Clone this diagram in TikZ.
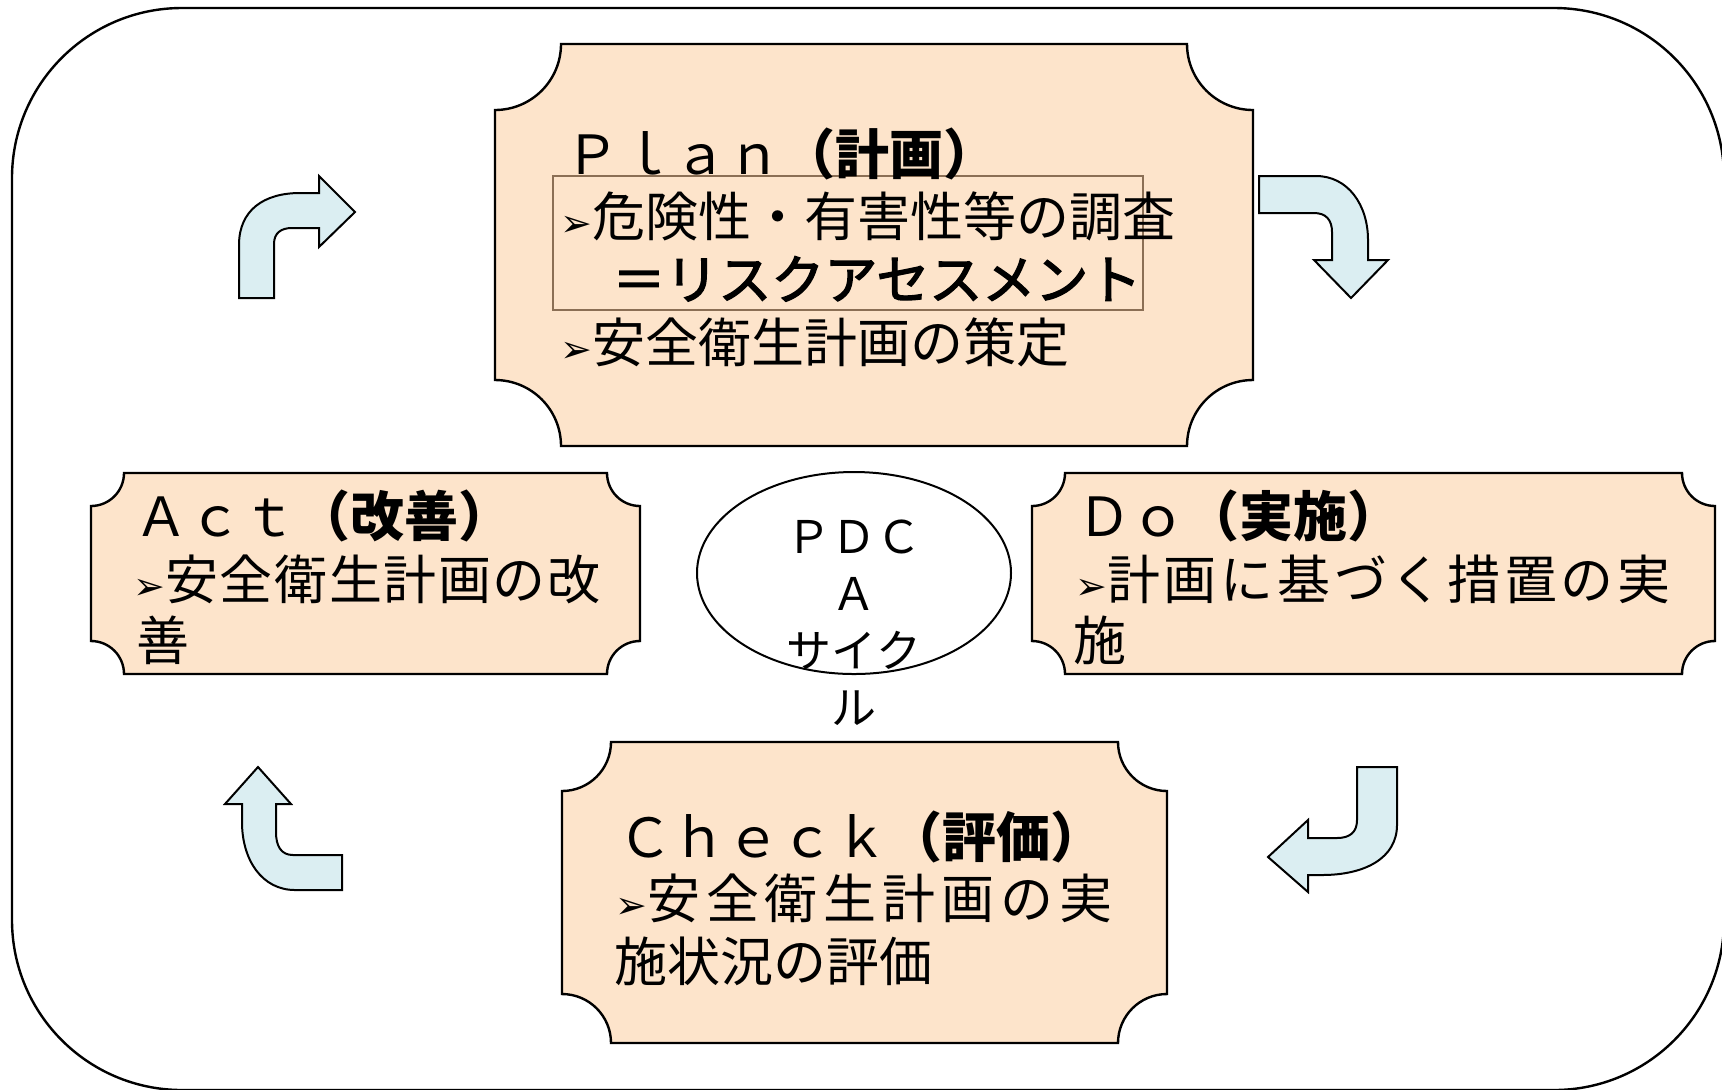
\documentclass[tikz,border=0pt]{standalone}
\usepackage{fontspec}
\newfontfamily\jpfont{Noto Sans CJK JP}
\newfontfamily\dejavufont{DejaVu Sans}
\usetikzlibrary{shapes.geometric}
\definecolor{peach}{HTML}{FDE4CB}
\definecolor{ice}{HTML}{DBEEF2}
\definecolor{framebrown}{HTML}{8B6F55}
\newcommand\bulmark{{\dejavufont\fontsize{19}{19}\selectfont\raisebox{0pt}{➢}}}
% plaque: x1 y1 x2 y2 r  (pixel coordinates, y downwards)
\newcommand\plaque[5]{%
  \draw[boxshape] (#1+#5,#2) -- (#3-#5,#2)
    arc[start angle=180,end angle=90,radius=#5] -- (#3,#4-#5)
    arc[start angle=270,end angle=180,radius=#5] -- (#1+#5,#4)
    arc[start angle=0,end angle=-90,radius=#5] -- (#1,#2+#5)
    arc[start angle=90,end angle=0,radius=#5] -- cycle;}
\begin{document}
\begin{tikzpicture}[x=0.5pt,y=-0.5pt,
  boxshape/.style={draw=black,line width=1.2pt,fill=peach},
  arrowshape/.style={draw=black,line width=1pt,fill=ice,line join=miter},
  body/.style={inner sep=0pt,anchor=west,font=\jpfont\fontsize{26.5}{31}\selectfont,text height=23.3pt,text depth=3.2pt},
  head/.style={inner sep=0pt,anchor=west,font=\jpfont\fontsize{27}{30}\selectfont,text height=23.8pt,text depth=3.2pt},
]
\useasboundingbox (0,0) rectangle (1722,1089);
\clip (0,0) rectangle (1722,1089);
% outer frame
\draw[line width=1.2pt,rounded corners=85pt] (12,8) rectangle (1724,1090);

% boxes
\plaque{495}{44}{1253}{446}{66}
\plaque{91}{473}{640}{674}{33}
\plaque{1032}{473}{1715}{674}{33}
\plaque{562}{742}{1167}{1043}{49}

% Plan
\node[draw=framebrown,line width=1pt,minimum width=295pt,minimum height=67pt,inner sep=0pt] (riskbox) at (848,243) {};
\node[head] (planh) at (565,154) {Ｐｌａｎ{\bfseries（計画）}};
\node[body] (plan1) at (560,216) {\bulmark 危険性・有害性等の調査};
\node[body] (plan2) at (612,279) {\addfontfeatures{FakeBold=2.5}＝リスクアセスメント};
\node[body] (plan3) at (560,342) {\bulmark 安全衛生計画の策定};

% Act
\node[head] (acth) at (134,516) {Ａｃｔ{\bfseries（改善）}};
\node[body] (act1) at (133,579) {\bulmark\addfontfeatures{LetterSpace=3}安全衛生計画の改};
\node[body] (act2) at (136,640) {善};

% Do
\node[head] (doh) at (1077,516) {Ｄｏ{\bfseries（実施）}};
\node[body] (do1) at (1075,579) {\bulmark\addfontfeatures{LetterSpace=7}計画に基づく措置の実};
\node[body] (do2) at (1073,640) {施};

% Check
\node[head] (checkh) at (618,837) {Ｃｈｅｃｋ{\bfseries（評価）}};
\node[body] (check1) at (615,898) {\bulmark\addfontfeatures{LetterSpace=11}安全衛生計画の実};
\node[body] (check2) at (614,961) {施状況の評価};

% PDCA ellipse
\node[ellipse,draw,line width=1pt,minimum width=157pt,minimum height=101pt,inner sep=0pt] (cycle) at (854,573) {};
\node[align=center,inner sep=0pt,font=\jpfont\fontsize{22.5}{28.5}\selectfont] (cycletext) at (854,623) {ＰＤＣ\\Ａ\\サイク\\ル};

% curved arrows
\draw[arrowshape] (239,298) -- (239,245) .. controls (239,210) and (264,193) .. (300,193)
  -- (319,193) -- (319,176) -- (355,212) -- (319,247) -- (319,228) -- (292,228)
  .. controls (281,228) and (274,233) .. (274,244) -- (274,298) -- cycle;
\draw[arrowshape] (1259,176) -- (1316,176) .. controls (1348,176) and (1368,205) .. (1368,240)
  -- (1368,260) -- (1388,260) -- (1351,298) -- (1314,260) -- (1332,260) -- (1332,232)
  .. controls (1332,220) and (1326,213) .. (1314,213) -- (1259,213) -- cycle;
\draw[arrowshape] (342,855) -- (342,890) -- (295,890) .. controls (262,890) and (242,860) .. (242,822)
  -- (242,804) -- (225,804) -- (258,767) -- (291,804) -- (276,804) -- (276,832)
  .. controls (276,846) and (281,855) .. (293,855) -- cycle;
\draw[arrowshape] (1357,767) -- (1397,767) -- (1397,825) .. controls (1397,858) and (1365,875) .. (1322,875)
  -- (1308,875) -- (1308,892) -- (1268,857) -- (1308,820) -- (1308,838) -- (1337,838)
  .. controls (1350,838) and (1357,832) .. (1357,820) -- cycle;
\end{tikzpicture}
\end{document}
